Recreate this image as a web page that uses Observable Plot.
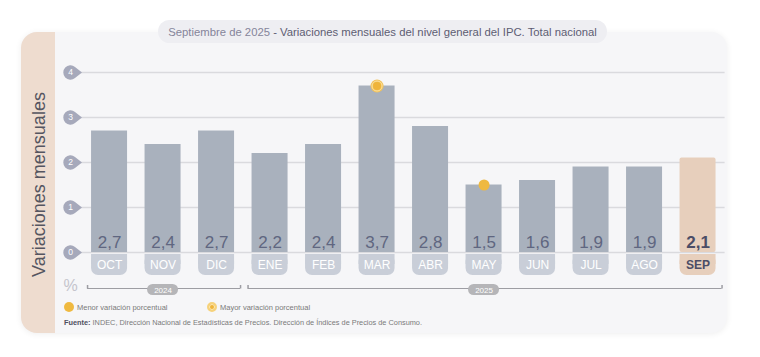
<!DOCTYPE html>
<html><head><meta charset="utf-8">
<script src="https://cdn.jsdelivr.net/npm/d3@7"></script>
<script src="https://cdn.jsdelivr.net/npm/@observablehq/plot@0.6"></script>
<style>
body{margin:0;background:#fff;font-family:"Liberation Sans",Arial,sans-serif;}
#wrap{position:relative;width:760px;height:357px;overflow:hidden;}
#panel{position:absolute;left:21px;top:32px;width:706px;height:301px;background:#f6f6f8;border-radius:16px;overflow:hidden;box-shadow:0 1px 6px rgba(0,0,0,0.07);}
#strip{position:absolute;left:0;top:0;width:34px;height:100%;background:#eedccf;}
#title{position:absolute;left:158px;top:20px;width:449px;height:23px;border-radius:12px;background:#eeeef2;display:flex;align-items:center;justify-content:center;font-size:11.3px;color:#5d5d73;white-space:nowrap;z-index:2;}
#title .light{color:#85859a;}
#chart{position:absolute;left:0;top:44px;z-index:1;}
#legend{position:absolute;left:64px;top:302px;height:12px;font-size:7.5px;color:#7a7a7a;z-index:2;}
.item{position:absolute;top:0;display:flex;align-items:center;white-space:nowrap;}
.sw{display:inline-block;width:10px;height:10px;border-radius:50%;margin-right:3px;box-sizing:border-box;}
#source{position:absolute;left:64px;top:318px;font-size:7.35px;color:#7a7a7a;white-space:nowrap;z-index:2;}
#source b{color:#505060;}
</style></head>
<body>
<div id="wrap">
  <div id="panel"><div id="strip"></div></div>
  <div id="title"><span class="light">Septiembre de 2025</span>&nbsp;- Variaciones mensuales del nivel general del IPC. Total nacional</div>
  <div id="chart"></div>
  <div id="legend"></div>
  <div id="source"><b>Fuente:</b> INDEC, Dirección Nacional de Estadísticas de Precios. Dirección de Índices de Precios de Consumo.</div>
</div>
<script>
// ---- data ----
const months = ["OCT","NOV","DIC","ENE","FEB","MAR","ABR","MAY","JUN","JUL","AGO","SEP"];
const values = [2.7, 2.4, 2.7, 2.2, 2.4, 3.7, 2.8, 1.5, 1.6, 1.9, 1.9, 2.1];
const years = ["2024","2024","2024","2025","2025","2025","2025","2025","2025","2025","2025","2025"];
const currentMonth = "SEP";
const yTicks = [0, 1, 2, 3, 4];
const markerMonths = ["MAR", "MAY"];
const markerKinds = ["mayor", "menor"];
const legendLabels = ["Menor variación porcentual", "Mayor variación porcentual"];
const yLabel = "Variaciones mensuales";

// ---- derived tables ----
const data = months.map((m, i) => ({month: m, value: values[i], year: years[i], current: m === currentMonth}));
const past = data.filter(d => !d.current);
const cur = data.filter(d => d.current);
const yearGroups = Array.from(d3.group(data, d => d.year), ([year, rows]) => ({
  year, first: rows[0].month, last: rows[rows.length - 1].month, mid: rows[Math.floor((rows.length - 1) / 2)].month
}));
const markers = markerMonths.map((m, i) => ({month: m, value: values[months.indexOf(m)], kind: markerKinds[i]}));
const mayor = markers.filter(d => d.kind === "mayor");
const menor = markers.filter(d => d.kind === "menor");

const fmt = v => v.toFixed(1).replace(".", ",");

const tear = {
  draw(ctx) {
    const r = 7.2, d = 11.5, t = Math.acos(r / d);
    ctx.moveTo(d, 0);
    ctx.arc(0, 0, r, -t, t, true);
    ctx.closePath();
  }
};
const vtick = {draw(ctx) { ctx.moveTo(0, 0); ctx.lineTo(0, -3.5); }};

const barColor = "#a9b1bd", curColor = "#e7cfbc";
const pillColor = "#c9ced8", curPill = "#e7cfbc";
const darkText = "#4b4d66";

const chart = Plot.plot({
  width: 760,
  height: 256,
  marginTop: 28,
  marginBottom: 48,
  marginLeft: 75,
  marginRight: 28.4,
  style: {fontFamily: "'Liberation Sans', Arial, sans-serif", background: "transparent", overflow: "visible"},
  x: {domain: months, axis: null, paddingInner: 0.327, paddingOuter: 0.3, align: 0.5, round: false},
  y: {domain: [0, 4], axis: null},
  marks: [
    // gridlines
    Plot.ruleY(yTicks, {y: d => d, stroke: "#dadade", strokeWidth: 1.5, insetLeft: 5, insetRight: 7}),
    // tick teardrops
    Plot.dot(yTicks, {y: d => d, frameAnchor: "left", dx: -5, symbol: tear, fill: "#a6a9bb"}),
    Plot.text(yTicks, {y: d => d, text: d => String(d), frameAnchor: "left", textAnchor: "middle", dx: -5, fill: "#ffffff", fontSize: 8.5}),
    // y label
    Plot.text([yLabel], {frameAnchor: "left", dx: -36, dy: 22, rotate: -90, textAnchor: "middle", fontSize: 18, fill: "#555560"}),
    // bars
    Plot.barY(past, {x: "month", y: "value", fill: barColor}),
    Plot.barY(cur, {x: "month", y: "value", fill: curColor, rx: 2}),
    // month pills (rounded bottom)
    Plot.barY(past, {x: "month", y1: 0, y2: 0, insetTop: 2, insetBottom: -23, rx: 7, fill: pillColor}),
    Plot.barY(past, {x: "month", y1: 0, y2: 0, insetTop: 2, insetBottom: -12, fill: pillColor}),
    Plot.barY(cur, {x: "month", y1: 0, y2: 0, insetTop: 2, insetBottom: -23, rx: 7, fill: curPill}),
    Plot.barY(cur, {x: "month", y1: 0, y2: 0, insetTop: 2, insetBottom: -12, fill: curPill}),
    Plot.text(past, {x: "month", y: () => 0, dy: 13, text: "month", fill: "#ffffff", fontSize: 12}),
    Plot.text(cur, {x: "month", y: () => 0, dy: 13, text: "month", fill: darkText, fontWeight: "bold", fontSize: 12}),
    // value labels
    Plot.text(past, {x: "month", y: () => 0, dy: -10, text: d => fmt(d.value), fill: "#5f6680", fontSize: 17}),
    Plot.text(cur, {x: "month", y: () => 0, dy: -10, text: d => fmt(d.value), fill: darkText, fontWeight: "bold", fontSize: 17}),
    // markers
    Plot.dot(mayor, {x: "month", y: "value", r: 6.5, fill: "#f2c25a"}),
    Plot.dot(mayor, {x: "month", y: "value", r: 5, fill: "none", stroke: "#fbe2a2", strokeWidth: 1}),
    Plot.dot(mayor, {x: "month", y: "value", r: 4, fill: "#efb43a"}),
    Plot.dot(menor, {x: "month", y: "value", r: 5.5, fill: "#efb940"}),
    // % unit
    Plot.text(["%"], {frameAnchor: "left", y: () => 0, dx: -5, dy: 33, textAnchor: "middle", fontSize: 16, fill: "#c4c4cc"}),
    // year brackets
    Plot.ruleY(yearGroups, {x1: "first", x2: "last", y: () => 0, dy: 36, insetLeft: -4, insetRight: -6, stroke: "#9d9da3", strokeWidth: 1}),
    Plot.dot(yearGroups, {x: "first", y: () => 0, dy: 36, dx: -22, symbol: vtick, stroke: "#9d9da3", fill: "none"}),
    Plot.dot(yearGroups, {x: "last", y: () => 0, dy: 36, dx: 24, symbol: vtick, stroke: "#9d9da3", fill: "none"}),
    Plot.barY(yearGroups, {x: "mid", y1: 0, y2: 0, insetTop: 32, insetBottom: -43, insetLeft: 2.5, insetRight: 2.5, rx: 5.5, fill: "#b5b5b8"}),
    Plot.text(yearGroups, {x: "mid", y: () => 0, dy: 37.5, text: "year", fill: "#ffffff", fontSize: 8})
  ]
});
document.getElementById("chart").appendChild(chart);

// legend
const legend = document.getElementById("legend");
const lefts = [0, 143];
legendLabels.forEach((lab, i) => {
  const it = document.createElement("div");
  it.className = "item";
  it.style.left = lefts[i] + "px";
  const sw = document.createElement("span");
  sw.className = "sw";
  if (i === 0) { sw.style.background = "#efb940"; }
  else { sw.style.background = "#efb43a"; sw.style.border = "2px solid #f6d27c"; sw.style.boxShadow = "inset 0 0 0 1px #fbe7b4"; }
  it.appendChild(sw);
  it.appendChild(document.createTextNode(lab));
  legend.appendChild(it);
});
</script>
</body></html>
